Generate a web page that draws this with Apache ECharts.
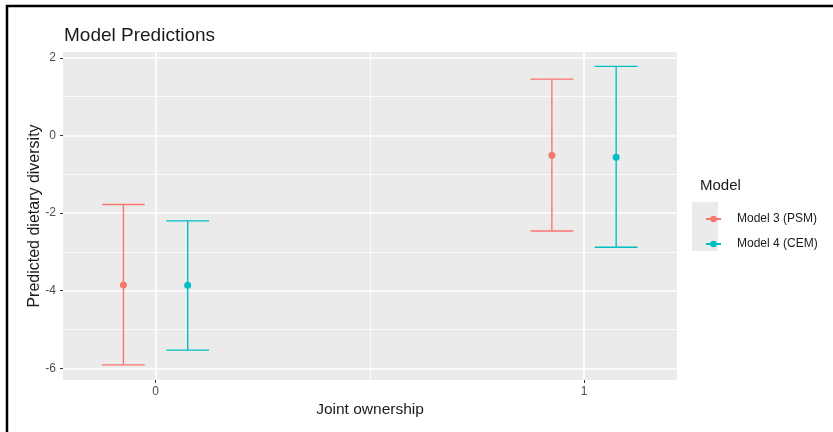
<!DOCTYPE html>
<html>
<head>
<meta charset="utf-8">
<script src="https://cdn.jsdelivr.net/npm/echarts@6/dist/echarts.min.js"></script>
<style>
  html, body { margin: 0; padding: 0; background: #fff; }
  #chart { width: 833px; height: 432px; }
</style>
</head>
<body>
<div id="chart"></div>
<script>
// data
var jointOwnership = [0, 1];
var dodge = [-0.075, 0.075]; // ggplot position_dodge offset per model
var modelNames = ['Model 3 (PSM)', 'Model 4 (CEM)'];
var psmFit = [-3.85, -0.51];
var psmLow = [-5.91, -2.46];
var psmHigh = [-1.78, 1.45];
var cemFit = [-3.86, -0.56];
var cemLow = [-5.53, -2.88];
var cemHigh = [-2.20, 1.78];
var yTicks = [-6, -4, -2, 0, 2];
var yMinor = [-5, -3, -1, 1];
var xTicks = [0, 1];
var xMinor = [0.5];

var colors = ['#F8766D', '#00BFC4'];
var capHalf = 0.05; // errorbar width / 2, x units

function points(fit, k) {
  var out = [];
  for (var i = 0; i < jointOwnership.length; i++) {
    out.push([jointOwnership[i] + dodge[k], fit[i]]);
  }
  return out;
}
function bars(low, high, k) {
  var out = [];
  for (var i = 0; i < jointOwnership.length; i++) {
    out.push([jointOwnership[i] + dodge[k], low[i], high[i]]);
  }
  return out;
}

function renderBar(params, api) {
  var x = api.value(0);
  var lo = api.coord([x, api.value(1)]);
  var hi = api.coord([x, api.value(2)]);
  var loL = api.coord([x - capHalf, api.value(1)]);
  var loR = api.coord([x + capHalf, api.value(1)]);
  var hiL = api.coord([x - capHalf, api.value(2)]);
  var hiR = api.coord([x + capHalf, api.value(2)]);
  var st = { stroke: api.visual('color'), lineWidth: 1.4 };
  return {
    type: 'group',
    children: [
      { type: 'line', shape: { x1: lo[0], y1: lo[1], x2: hi[0], y2: hi[1] }, style: st },
      { type: 'line', shape: { x1: loL[0], y1: loL[1], x2: loR[0], y2: loR[1] }, style: st },
      { type: 'line', shape: { x1: hiL[0], y1: hiL[1], x2: hiR[0], y2: hiR[1] }, style: st }
    ]
  };
}

// grid lines through the axis scales
var gridLines = [];
yTicks.forEach(function (v) { gridLines.push({ yAxis: v, lineStyle: { width: 1.6 } }); });
yMinor.forEach(function (v) { gridLines.push({ yAxis: v, lineStyle: { width: 0.8 } }); });
xTicks.forEach(function (v) { gridLines.push({ xAxis: v, lineStyle: { width: 1.6 } }); });
xMinor.forEach(function (v) { gridLines.push({ xAxis: v, lineStyle: { width: 0.8 } }); });

var legendIcon = 'path://M0 2.6 L15 2.6 L15 4.4 L0 4.4 Z M10.8 3.5 A3.3 3.3 0 1 1 4.2 3.5 A3.3 3.3 0 1 1 10.8 3.5 Z';

var myChart = echarts.init(document.getElementById('chart'));
var option = {
  animation: false,
  textStyle: { fontFamily: 'Liberation Sans' },
  title: {
    text: 'Model Predictions',
    left: 59,
    top: 21,
    textStyle: { fontSize: 19, fontWeight: 'normal', color: '#1a1a1a', fontFamily: 'Liberation Sans' }
  },
  grid: {
    left: 63, right: 156, top: 52, bottom: 52,
    show: true, backgroundColor: '#ebebeb', borderWidth: 0
  },
  legend: {
    orient: 'vertical',
    left: 701,
    top: 208,
    itemWidth: 15,
    itemHeight: 7,
    itemGap: 13,
    data: modelNames.map(function (n) { return { name: n, icon: legendIcon }; }),
    textStyle: { fontSize: 12, color: '#1a1a1a', padding: [0, 0, 0, 11], fontFamily: 'Liberation Sans' },
    selectedMode: false
  },
  xAxis: {
    type: 'value',
    min: -0.216,
    max: 1.217,
    name: 'Joint ownership',
    nameLocation: 'middle',
    nameGap: 22,
    nameMoveOverlap: false,
    nameTextStyle: { fontSize: 15.5, color: '#1a1a1a' },
    axisLine: { show: false, onZero: false },
    splitLine: { show: false },
    axisTick: { show: true, customValues: xTicks, length: 3, lineStyle: { color: '#333' } },
    axisLabel: { customValues: xTicks, margin: 6, fontSize: 12, color: '#4d4d4d' }
  },
  yAxis: {
    type: 'value',
    min: -6.3,
    max: 2.15,
    name: 'Predicted dietary diversity',
    nameLocation: 'middle',
    nameGap: 20,
    nameMoveOverlap: false,
    nameTextStyle: { fontSize: 16, color: '#1a1a1a' },
    axisLine: { show: false, onZero: false },
    splitLine: { show: false },
    axisTick: { show: true, customValues: yTicks, length: 3, lineStyle: { color: '#333' } },
    axisLabel: { customValues: yTicks, margin: 7, fontSize: 12, color: '#4d4d4d' }
  },
  graphic: [
    { type: 'polyline', shape: { points: [[7, 432], [7, 6], [833, 6]] }, style: { stroke: '#000', lineWidth: 2.5, fill: null } },
    { type: 'text', left: 700, top: 178, style: { text: 'Model', fontSize: 15, fill: '#1a1a1a', fontFamily: 'Liberation Sans' } },
    { type: 'rect', shape: { x: 692, y: 202, width: 26, height: 49 }, style: { fill: '#ebebeb' }, z: -1 }
  ],
  series: [
    {
      type: 'line',
      data: [],
      silent: true,
      z: 1,
      markLine: {
        silent: true,
        symbol: 'none',
        label: { show: false },
        lineStyle: { color: '#ffffff', type: 'solid' },
        data: gridLines
      }
    },
    {
      name: modelNames[0],
      type: 'custom',
      renderItem: renderBar,
      itemStyle: { color: colors[0] },
      data: bars(psmLow, psmHigh, 0),
      zlevel: 1
    },
    {
      name: modelNames[1],
      type: 'custom',
      renderItem: renderBar,
      itemStyle: { color: colors[1] },
      data: bars(cemLow, cemHigh, 1),
      zlevel: 1
    },
    {
      name: modelNames[0],
      type: 'scatter',
      symbolSize: 7,
      itemStyle: { color: colors[0], opacity: 1 },
      data: points(psmFit, 0),
      zlevel: 1,
      z: 4
    },
    {
      name: modelNames[1],
      type: 'scatter',
      symbolSize: 7,
      itemStyle: { color: colors[1], opacity: 1 },
      data: points(cemFit, 1),
      zlevel: 1,
      z: 4
    }
  ]
};
myChart.setOption(option);
</script>
</body>
</html>
